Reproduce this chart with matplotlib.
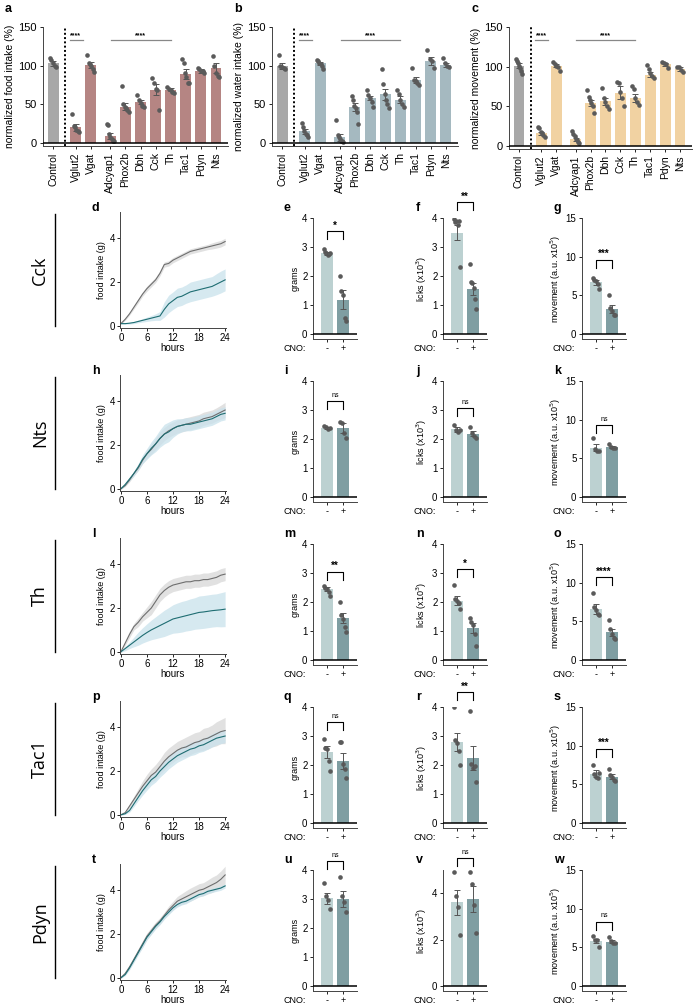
import numpy as np
import matplotlib.pyplot as plt
from matplotlib.lines import Line2D

plt.rcParams['font.family'] = ['Liberation Sans', 'DejaVu Sans']
plt.rcParams['font.size'] = 6.5
plt.rcParams['axes.linewidth'] = 0.7

## ---------------- screen data, panels a-c ----------------
genes = ['Control', 'Vglut2', 'Vgat', 'Adcyap1', 'Phox2b', 'Dbh', 'Cck', 'Th', 'Tac1', 'Pdyn', 'Nts']

food_mean = [103, 20, 101, 9, 47, 53, 69, 69, 89, 93, 97]
food_err = [3, 4, 4, 4, 5, 3, 7, 2, 6, 2, 7]
food_pts = [[110, 107, 104, 100, 98], [37, 22, 20, 17, 15, 14], [114, 104, 102, 100, 96, 92],
            [25, 23, 12, 8, 5, 3, 2], [74, 50, 47, 45, 42, 40], [62, 55, 52, 48, 46],
            [84, 77, 70, 68, 42], [72, 70, 68, 66, 64], [108, 104, 90, 85, 77, 77],
            [97, 95, 93, 93, 90], [113, 100, 90, 86, 85]]

water_mean = [99, 15, 103, 7, 46, 58, 63, 56, 81, 106, 101]
water_err = [4, 3, 2, 4, 5, 3, 7, 5, 4, 5, 3]
water_pts = [[114, 100, 98, 97, 96], [26, 20, 15, 12, 10, 8], [107, 106, 104, 102, 100, 96],
             [30, 10, 7, 5, 3, 2, 1], [61, 55, 48, 45, 40, 25], [69, 62, 58, 53, 47],
             [95, 76, 63, 55, 50, 45], [68, 63, 55, 50, 46], [97, 82, 80, 77, 75],
             [120, 108, 106, 97], [110, 104, 100, 98]]

move_mean_a = [101, 16, 101, 8, 54, 56, 67, 60, 90, 103, 97]
move_err_a = [3, 2, 2, 2, 4, 5, 8, 5, 3, 2, 2]
move_pts_a = [[110, 107, 104, 101, 98, 94, 91], [24, 22, 18, 16, 14, 11], [106, 103, 101, 100, 95],
              [19, 15, 12, 9, 7, 5, 3], [70, 62, 58, 54, 50, 42], [73, 60, 55, 50, 46],
              [80, 79, 68, 60, 50], [75, 72, 60, 55, 52], [102, 97, 92, 88, 86],
              [106, 105, 103, 98], [100, 99, 96, 93]]

## ---------------- 24 h food intake, panels d, h, l, p, t ----------------
hours = list(range(25))
cck_ctrl = [0.1, 0.3, 0.55, 0.85, 1.15, 1.45, 1.7, 1.9, 2.1, 2.4, 2.8, 2.85, 3.0, 3.1, 3.2, 3.3, 3.4, 3.45, 3.5, 3.55, 3.6, 3.65, 3.7, 3.75, 3.85]
cck_ctrl_sem = [0.03, 0.05, 0.06, 0.08, 0.1, 0.1, 0.12, 0.12, 0.12, 0.12, 0.12, 0.12, 0.12, 0.12, 0.12, 0.12, 0.12, 0.12, 0.12, 0.12, 0.12, 0.14, 0.15, 0.15, 0.15]
cck_cno = [0.1, 0.1, 0.12, 0.15, 0.2, 0.25, 0.3, 0.35, 0.4, 0.45, 0.75, 1.0, 1.15, 1.3, 1.35, 1.45, 1.55, 1.6, 1.65, 1.7, 1.75, 1.8, 1.9, 2.0, 2.1]
cck_cno_sem = [0.02, 0.03, 0.04, 0.05, 0.06, 0.08, 0.1, 0.12, 0.15, 0.2, 0.35, 0.4, 0.4, 0.42, 0.42, 0.42, 0.45, 0.45, 0.45, 0.45, 0.45, 0.45, 0.48, 0.5, 0.5]

nts_ctrl = [0.0, 0.15, 0.4, 0.7, 0.95, 1.3, 1.6, 1.8, 2.05, 2.3, 2.5, 2.65, 2.75, 2.85, 2.9, 2.95, 3.0, 3.05, 3.1, 3.2, 3.25, 3.3, 3.4, 3.5, 3.6]
nts_ctrl_sem = [0.02, 0.05, 0.08, 0.1, 0.12, 0.15, 0.2, 0.22, 0.25, 0.3, 0.3, 0.3, 0.3, 0.3, 0.3, 0.3, 0.3, 0.3, 0.3, 0.3, 0.3, 0.3, 0.3, 0.32, 0.35]
nts_cno = [0.0, 0.2, 0.45, 0.7, 1.0, 1.35, 1.6, 1.85, 2.05, 2.3, 2.5, 2.6, 2.75, 2.85, 2.9, 2.95, 2.95, 3.0, 3.05, 3.1, 3.15, 3.2, 3.3, 3.4, 3.45]
nts_cno_sem = [0.02, 0.05, 0.08, 0.12, 0.15, 0.2, 0.25, 0.3, 0.35, 0.4, 0.45, 0.45, 0.4, 0.35, 0.3, 0.3, 0.3, 0.3, 0.3, 0.3, 0.3, 0.3, 0.3, 0.3, 0.3]

th_ctrl = [0.0, 0.4, 0.8, 1.15, 1.35, 1.6, 1.8, 2.0, 2.3, 2.6, 2.8, 2.95, 3.05, 3.1, 3.15, 3.2, 3.2, 3.25, 3.25, 3.3, 3.3, 3.35, 3.4, 3.5, 3.55]
th_ctrl_sem = [0.02, 0.1, 0.15, 0.15, 0.2, 0.2, 0.25, 0.3, 0.3, 0.3, 0.3, 0.3, 0.3, 0.3, 0.3, 0.3, 0.3, 0.3, 0.3, 0.3, 0.3, 0.3, 0.3, 0.3, 0.3]
th_cno = [0.0, 0.15, 0.3, 0.45, 0.6, 0.75, 0.88, 1.0, 1.1, 1.2, 1.3, 1.4, 1.5, 1.55, 1.6, 1.65, 1.7, 1.75, 1.8, 1.82, 1.85, 1.88, 1.9, 1.92, 1.95]
th_cno_sem = [0.02, 0.1, 0.15, 0.22, 0.3, 0.35, 0.4, 0.45, 0.5, 0.55, 0.6, 0.62, 0.65, 0.68, 0.7, 0.7, 0.72, 0.72, 0.75, 0.75, 0.75, 0.75, 0.75, 0.78, 0.8]

tac1_ctrl = [0.0, 0.1, 0.4, 0.7, 1.0, 1.3, 1.55, 1.8, 1.95, 2.2, 2.45, 2.65, 2.8, 2.95, 3.05, 3.1, 3.2, 3.3, 3.35, 3.45, 3.5, 3.6, 3.7, 3.8, 3.85]
tac1_ctrl_sem = [0.02, 0.05, 0.1, 0.15, 0.2, 0.25, 0.3, 0.3, 0.35, 0.35, 0.4, 0.4, 0.4, 0.4, 0.4, 0.45, 0.45, 0.45, 0.45, 0.5, 0.5, 0.5, 0.55, 0.55, 0.6]
tac1_cno = [0.0, 0.05, 0.2, 0.5, 0.8, 1.1, 1.35, 1.6, 1.75, 2.0, 2.2, 2.4, 2.55, 2.7, 2.8, 2.9, 3.0, 3.05, 3.15, 3.2, 3.3, 3.4, 3.5, 3.55, 3.6]
tac1_cno_sem = [0.02, 0.03, 0.08, 0.12, 0.15, 0.2, 0.22, 0.25, 0.25, 0.28, 0.3, 0.3, 0.3, 0.3, 0.3, 0.3, 0.3, 0.3, 0.3, 0.3, 0.3, 0.3, 0.3, 0.3, 0.3]

pdyn_ctrl = [0.0, 0.2, 0.5, 0.85, 1.2, 1.55, 1.9, 2.15, 2.4, 2.6, 2.85, 3.1, 3.3, 3.5, 3.6, 3.7, 3.8, 3.9, 4.0, 4.05, 4.15, 4.25, 4.35, 4.5, 4.7]
pdyn_ctrl_sem = [0.02, 0.05, 0.08, 0.1, 0.12, 0.15, 0.15, 0.15, 0.15, 0.15, 0.15, 0.18, 0.2, 0.22, 0.25, 0.28, 0.3, 0.3, 0.3, 0.3, 0.32, 0.35, 0.35, 0.38, 0.4]
pdyn_cno = [0.0, 0.15, 0.45, 0.8, 1.15, 1.5, 1.85, 2.1, 2.35, 2.55, 2.8, 3.0, 3.2, 3.35, 3.45, 3.5, 3.6, 3.7, 3.8, 3.85, 3.95, 4.0, 4.05, 4.1, 4.2]
pdyn_cno_sem = [0.02, 0.05, 0.08, 0.1, 0.1, 0.12, 0.12, 0.12, 0.12, 0.12, 0.12, 0.12, 0.12, 0.12, 0.12, 0.12, 0.1, 0.1, 0.1, 0.1, 0.1, 0.1, 0.1, 0.1, 0.1]

## ---------------- CNO bar panels (order: Cck, Nts, Th, Tac1, Pdyn) ----------------
row_genes = ['Cck', 'Nts', 'Th', 'Tac1', 'Pdyn']
cno_labels = ['-', '+']

grams_mean = [[2.78, 1.18], [2.39, 2.38], [2.44, 1.45], [2.45, 2.15], [3.02, 3.0]]
grams_err = [[0.05, 0.33], [0.03, 0.18], [0.07, 0.17], [0.2, 0.28], [0.2, 0.28]]
grams_pts = [[[2.92, 2.82, 2.78, 2.72, 2.75, 2.8], [2.0, 1.5, 1.35, 0.55, 0.45]],
             [[2.45, 2.4, 2.35, 2.38], [2.6, 2.55, 2.2, 2.05]],
             [[2.55, 2.5, 2.45, 2.35, 2.2], [2.0, 1.55, 1.4, 1.15, 0.95]],
             [[2.9, 2.6, 2.55, 2.15, 1.8], [2.8, 2.8, 2.05, 1.85, 1.55]],
             [[3.55, 3.1, 2.95, 2.65], [3.75, 3.1, 2.9, 2.55]]]
grams_sig = ['*', 'ns', '**', 'ns', 'ns']

licks_mean = [[3.5, 1.55], [2.33, 2.18], [2.05, 1.1], [2.8, 2.25], [3.6, 3.75]]
licks_err = [[0.27, 0.2], [0.1, 0.08], [0.15, 0.17], [0.32, 0.42], [0.55, 0.58]]
licks_pts = [[[3.95, 3.85, 3.9, 3.75, 3.9, 2.3], [2.4, 1.8, 1.75, 1.6, 1.2, 0.85]],
             [[2.5, 2.3, 2.25, 2.3], [2.4, 2.2, 2.1, 2.05]],
             [[2.6, 2.1, 2.05, 1.95, 1.75], [1.45, 1.3, 1.2, 0.9, 0.5]],
             [[4.0, 2.85, 2.75, 2.5, 2.0], [3.85, 2.05, 1.9, 1.95, 1.4]],
             [[4.9, 3.9, 3.4, 2.2], [4.9, 4.4, 3.5, 2.3]]]
licks_sig = ['**', 'ns', '*', '**', 'ns']

move_mean = [[6.7, 3.2], [6.4, 6.45], [6.6, 3.6], [6.4, 6.0], [5.8, 5.75]]
move_err = [[0.3, 0.5], [0.45, 0.12], [0.6, 0.45], [0.4, 0.35], [0.3, 0.22]]
move_pts = [[[7.3, 7.0, 6.8, 6.5, 5.8], [5.0, 3.4, 3.0, 2.4, 2.5]],
            [[7.6, 6.2, 5.9, 6.0], [6.8, 6.5, 6.4, 6.3]],
            [[8.7, 6.8, 6.5, 6.0, 5.8], [5.2, 4.0, 3.4, 2.8, 2.7]],
            [[7.5, 6.3, 6.0, 5.8, 6.5], [7.0, 6.2, 5.9, 5.5, 5.4]],
            [[6.5, 6.0, 5.9, 5.0], [6.4, 5.8, 5.6, 5.5]]]
move_sig = ['***', 'ns', '****', '***', 'ns']

intake_ctrl = [cck_ctrl, nts_ctrl, th_ctrl, tac1_ctrl, pdyn_ctrl]
intake_ctrl_sem = [cck_ctrl_sem, nts_ctrl_sem, th_ctrl_sem, tac1_ctrl_sem, pdyn_ctrl_sem]
intake_cno = [cck_cno, nts_cno, th_cno, tac1_cno, pdyn_cno]
intake_cno_sem = [cck_cno_sem, nts_cno_sem, th_cno_sem, tac1_cno_sem, pdyn_cno_sem]

## ---------------- layout / style ----------------
W, H = 694, 1005
fig = plt.figure(figsize=(W / 100, H / 100), dpi=100)

def px_axes(l, t, r, b):
    return fig.add_axes([l / W, 1 - b / H, (r - l) / W, (b - t) / H])

gene_pos = [0, 1.5, 2.5, 3.8, 4.8, 5.8, 6.8, 7.8, 8.8, 9.8, 10.8]
DOT = '#5a5a5a'
ROW_DY = 163
BAR_C = ['#bcd1d1', '#7f9ea2']

def clean(ax):
    ax.spines['top'].set_visible(False)
    ax.spines['right'].set_visible(False)
    ax.spines['left'].set_color('#444444')
    ax.spines['bottom'].set_color('#444444')

def spread(n, w):
    return np.linspace(-w, w, n) if n > 1 else np.zeros(1)

##---------------- top panels a, b, c ----------------
top_boxes = [(43, 27, 228, 146), (272, 27, 458, 146), (509, 27, 692, 149)]
top_sets = [(food_mean, food_err, food_pts, '#b58583', 'normalized food intake (%)', 'a'),
            (water_mean, water_err, water_pts, '#a5b9c0', 'normalized water intake (%)', 'b'),
            (move_mean_a, move_err_a, move_pts_a, '#f1d2a2', 'normalized movement (%)', 'c')]

for box, (mean, err, pts, col, ylab, letter) in zip(top_boxes, top_sets):
    ax = px_axes(*box)
    clean(ax)
    ax.bar(gene_pos, mean, width=0.72, color=['#a8a8a8'] + [col] * 10, zorder=1)
    ax.errorbar(gene_pos, mean, yerr=err, fmt='none', ecolor='#555555', elinewidth=0.7, capsize=2, capthick=0.7, zorder=2)
    for x, p in zip(gene_pos, pts):
        ax.scatter(x + spread(len(p), 0.22), p, s=11, color=DOT, lw=0, zorder=3)
    ax.axhline(0, color='k', lw=1.1, zorder=4)
    ax.axvline(0.8, ymin=0, ymax=1, color='k', lw=1.4, ls=(0, (1, 1.2)), clip_on=False)
    ax.set_xlim(-0.67, 11.6)
    ax.set_ylim(-4, 150)
    ax.set_yticks([0, 50, 100, 150])
    ax.set_xticks(gene_pos)
    ax.set_xticklabels(genes, rotation=90)
    ax.tick_params(axis='both', length=2.5, width=0.6, labelsize=8, pad=2)
    ax.tick_params(axis='x', labelsize=7.5)
    ax.set_ylabel(ylab, fontsize=7.5, labelpad=2)
    ax.plot([1.1, 1.95], [133, 133], color='#888888', lw=0.9)
    ax.plot([3.85, 7.8], [133, 133], color='#888888', lw=0.9)
    ax.text(1.5, 134, '****', ha='center', va='bottom', fontsize=5, fontweight='bold')
    ax.text(5.8, 134, '****', ha='center', va='bottom', fontsize=5, fontweight='bold')
    fig.text((box[0] - 38) / W, 1 - 3 / H, letter, fontsize=9, fontweight='bold', va='top')

##---------------- rows d-w ----------------
letters = [['d', 'e', 'f', 'g'], ['h', 'i', 'j', 'k'], ['l', 'm', 'n', 'o'],
           ['p', 'q', 'r', 's'], ['t', 'u', 'v', 'w']]
grams_br = [3.55, 3.3, 3.04, 3.48, 4.3]
licks_br = [4.55, 3.07, 3.14, 4.5, 5.5]
move_br = [9.6, 9.25, 10.7, 9.6, 8.3]

def cno_panel(ax, mean, err, pts, sig, br, ymax, yticks, ylab):
    clean(ax)
    ax.bar([0, 1], mean, width=0.78, color=BAR_C, zorder=1)
    ax.errorbar([0, 1], mean, yerr=err, fmt='none', ecolor='#555555', elinewidth=0.7, capsize=2.5, capthick=0.7, zorder=3)
    for x, p in zip([0, 1], pts):
        ax.scatter(x + spread(len(p), 0.2), p, s=11, color=DOT, lw=0, zorder=2)
    ybot = -0.043 * ymax
    ax.axhline(0, color='k', lw=1.1, zorder=4)
    ax.set_xlim(-0.875, 1.875)
    ax.set_ylim(ybot, ymax)
    ax.set_yticks(yticks)
    ax.set_xticks([0, 1])
    ax.set_xticklabels(cno_labels)
    ax.tick_params(axis='both', length=2, width=0.6, labelsize=7, pad=2)
    ax.tick_params(axis='x', pad=1.5, labelsize=6.5)
    ax.set_ylabel(ylab, fontsize=6.5, labelpad=2)
    tip = 0.065 * (ymax - ybot)
    ax.plot([0, 0, 1, 1], [br - tip, br, br, br - tip], color='k', lw=0.8, clip_on=False)
    if sig == 'ns':
        ax.text(0.5, br + 0.02 * ymax, sig, ha='center', va='bottom', fontsize=5, clip_on=False)
    else:
        ax.text(0.5, br + 0.005 * ymax, sig, ha='center', va='bottom', fontsize=7, fontweight='bold', clip_on=False)
    ax.annotate('CNO:', xy=(0, 0), xycoords='axes fraction', xytext=(-5, -3.5),
                textcoords='offset points', ha='right', va='top', fontsize=6.5)

for i, gene in enumerate(row_genes):
    dy = ROW_DY * i
    # row label and divider
    fig.text(40 / W, 1 - (270 + dy) / H, gene, rotation=90, ha='center', va='center',
             fontsize=13, family=['Open Sans', 'DejaVu Sans'])
    fig.add_artist(Line2D([55 / W, 55 / W], [1 - (214 + dy) / H, 1 - (326 + dy) / H], color='k', lw=1.0))

    # cumulative food intake
    ax = px_axes(120, 212 + dy, 226, 328 + dy)
    clean(ax)
    c = np.array(intake_ctrl[i]); cs = np.array(intake_ctrl_sem[i])
    n = np.array(intake_cno[i]); ns = np.array(intake_cno_sem[i])
    ax.fill_between(hours, c - cs, c + cs, color='#dadada', lw=0, alpha=0.8)
    ax.fill_between(hours, n - ns, n + ns, color='#c9e2ec', lw=0, alpha=0.75)
    ax.plot(hours, c, color='#6e6e6e', lw=0.8)
    ax.plot(hours, n, color='#1e6d72', lw=0.8)
    ax.set_xlim(-0.2, 24.2)
    ax.set_ylim(-0.1, 5.2)
    ax.set_xticks([0, 6, 12, 18, 24])
    ax.set_yticks([0, 2, 4])
    ax.tick_params(axis='both', length=2, width=0.6, labelsize=7, pad=1.5)
    ax.set_ylabel('food intake (g)', fontsize=6.5, labelpad=3)
    ax.set_xlabel('hours', fontsize=7, labelpad=0)

    # bar panels
    ax_e = px_axes(313, 218 + dy, 357, 339 + dy)
    cno_panel(ax_e, grams_mean[i], grams_err[i], grams_pts[i], grams_sig[i], grams_br[i],
              4, [0, 1, 2, 3, 4], 'grams')
    ax_f = px_axes(443, 218 + dy, 487, 339 + dy)
    lmax = 5.0 if gene == 'Pdyn' else 4
    lticks = [0, 2, 4] if gene == 'Pdyn' else [0, 1, 2, 3, 4]
    cno_panel(ax_f, licks_mean[i], licks_err[i], licks_pts[i], licks_sig[i], licks_br[i],
              lmax, lticks, 'licks (x10$^3$)')
    ax_g = px_axes(582, 218 + dy, 626, 339 + dy)
    cno_panel(ax_g, move_mean[i], move_err[i], move_pts[i], move_sig[i], move_br[i],
              15, [0, 5, 10, 15], 'movement (a.u. x10$^5$)')

    for x0, let in zip([92, 284, 416, 554], letters[i]):
        fig.text(x0 / W, 1 - (202 + dy) / H, let, fontsize=9, fontweight='bold', va='top')

fig.savefig('out.png', dpi=100)
